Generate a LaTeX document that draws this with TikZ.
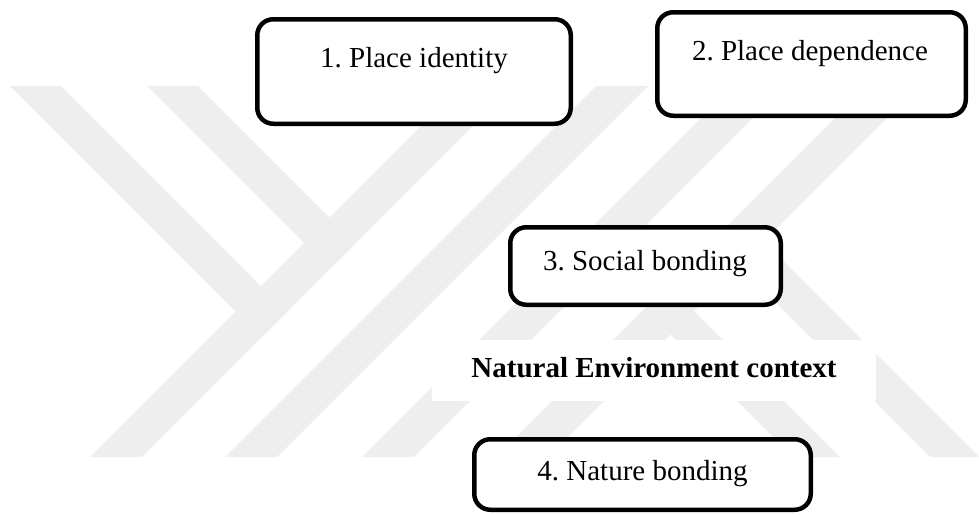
\documentclass[tikz,border=0pt]{standalone}
\usepackage{fontspec}
\setmainfont{Liberation Serif}
\frenchspacing
\definecolor{wm}{RGB}{238,238,238}
\tikzset{
  wmband/.style={fill=wm, draw=none},
  bondbox/.style={draw=black, line width=4.5pt, rounded corners=16pt, fill=white, inner sep=0pt},
  lbl/.style={font=\fontsize{29}{34}\selectfont, anchor=base, inner sep=0pt},
  envbg/.style={fill=white, draw=none, inner sep=0pt, minimum width=444pt, minimum height=61pt},
}
\begin{document}
\begin{tikzpicture}[x=1pt,y=-1pt]
\useasboundingbox (0,0) rectangle (979,514);
% faint watermark bands
\fill[wmband] (10,86) -- (61,86) -- (287,312) -- (261.5,337.5) -- cycle;
\fill[wmband] (147,86) -- (198,86) -- (355.5,243.5) -- (330,269) -- cycle;
\fill[wmband] (90,457) -- (142,457) -- (513,86) -- (461,86) -- cycle;
\fill[wmband] (225,457) -- (277,457) -- (648,86) -- (596,86) -- cycle;
\fill[wmband] (362,457) -- (414,457) -- (785,86) -- (733,86) -- cycle;
\fill[wmband] (496,457) -- (548,457) -- (919,86) -- (867,86) -- cycle;
\fill[wmband] (644.5,308.5) -- (668,285) -- (840,457) -- (793,457) -- cycle;
\fill[wmband] (713,240) -- (737.5,215.5) -- (979,457) -- (930,457) -- cycle;
% boxes
\node[bondbox, minimum width=313.5pt, minimum height=104.5pt] (b1) at (414,71.5) {};
\node[lbl] (t1) at (414,67) {1. Place identity};
\node[bondbox, minimum width=308.5pt, minimum height=103.5pt] (b2) at (811.5,64) {};
\node[lbl] (t2) at (810,60) {2. Place dependence};
\node[bondbox, minimum width=270.5pt, minimum height=77.5pt] (b3) at (645.5,266) {};
\node[lbl] (t3) at (645,270) {3. Social bonding};
\node[envbg] (envrect) at (654,370.5) {};
\node[lbl, font=\fontsize{29}{34}\selectfont\bfseries] (env) at (654,377) {Natural Environment context};
\node[bondbox, minimum width=336.5pt, minimum height=70.5pt] (b4) at (642.5,474.5) {};
\node[lbl] (t4) at (642.5,480) {4. Nature bonding};
\end{tikzpicture}
\end{document}
